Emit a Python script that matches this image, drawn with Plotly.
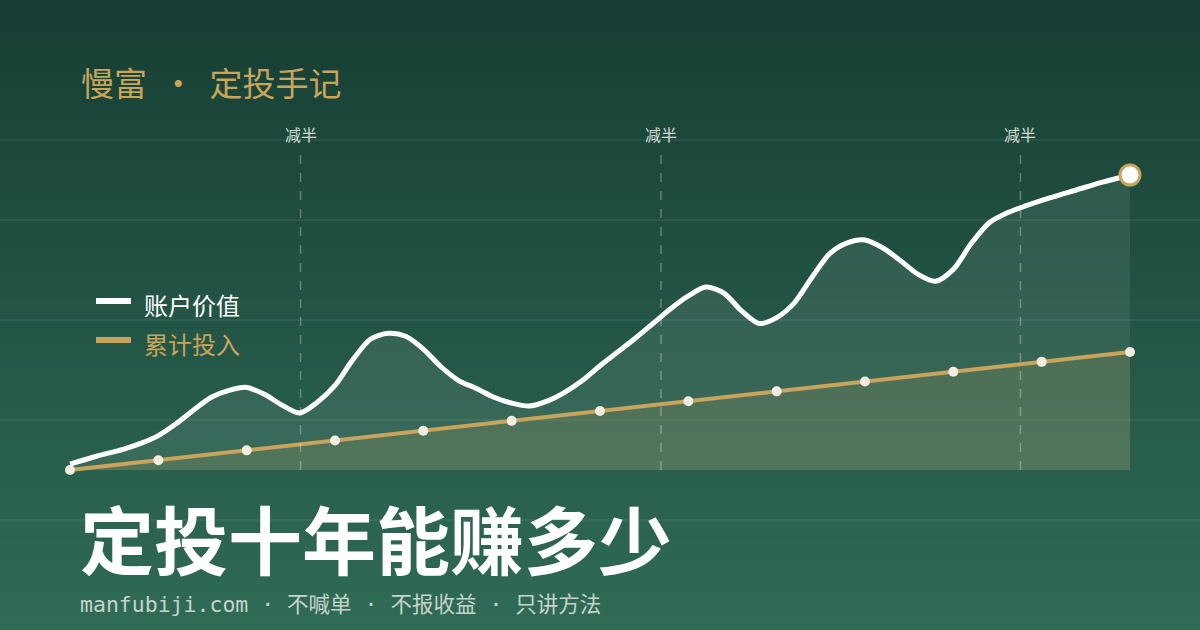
import plotly.graph_objects as go

# ---- data ----
months = [0, 3, 6, 8, 10, 12, 14, 16, 18, 20, 22, 24, 26, 28, 30, 32, 34, 36, 38, 40,
          42, 44, 46, 48, 50, 52, 54, 56, 58, 60, 62, 64, 66, 68, 70, 72, 74, 76, 78, 80,
          82, 84, 86, 88, 90, 92, 94, 96, 98, 100, 102, 104, 106, 108, 111, 114, 117, 120]
account_value = [0.6, 1.4, 2.1, 2.7, 3.5, 4.7, 6.1, 7.4, 8.1, 8.4, 7.7, 6.6, 5.8, 6.9, 8.6,
                 11.2, 13.3, 13.9, 13.6, 12.3, 10.5, 9.1, 8.3, 7.4, 6.8, 6.5, 7.0, 7.9, 9.1,
                 10.6, 12.0, 13.4, 14.9, 16.4, 17.7, 18.6, 18.0, 16.2, 14.9, 15.5, 17.0, 19.6,
                 22.0, 23.1, 23.4, 22.6, 21.3, 19.9, 19.2, 20.4, 23.0, 25.1, 26.1, 26.8, 27.7,
                 28.5, 29.3, 30.0]
invest_months = [0, 10, 20, 30, 40, 50, 60, 70, 80, 90, 100, 110, 120]
invested = [0, 1, 2, 3, 4, 5, 6, 7, 8, 9, 10, 11, 12]
halving_months = [26.1, 66.9, 107.6]
halving_label = "减半"
series_names = ["账户价值", "累计投入"]
brand = "慢富 · 定投手记"
headline = "定投十年能赚多少"
tagline = "manfubiji.com · 不喊单 · 不报收益 · 只讲方法"

W, H = 1200, 630
GOLD = "#c9a45c"
CJK = "Noto Sans CJK SC"

fig = go.Figure()

# account value area + line
fig.add_trace(go.Scatter(
    x=months, y=account_value, mode="lines",
    line=dict(color="#ffffff", width=5, shape="spline", smoothing=0.8),
    fill="tozeroy", fillcolor="rgba(255,255,255,0.08)",
    hoverinfo="skip", showlegend=False))

# invested area + line
fig.add_trace(go.Scatter(
    x=invest_months, y=invested, mode="lines+markers",
    line=dict(color=GOLD, width=4),
    marker=dict(size=10, color="#f1ede1", line=dict(width=0)),
    fill="tozeroy", fillcolor="rgba(201,164,92,0.17)",
    hoverinfo="skip", showlegend=False))

# end point marker
fig.add_trace(go.Scatter(
    x=[months[-1]], y=[account_value[-1]], mode="markers",
    marker=dict(size=20, color="#ffffff", line=dict(color=GOLD, width=3)),
    hoverinfo="skip", showlegend=False))

shapes = []
# vertical gradient background
top = (0x17, 0x3e, 0x34)
bot = (0x2f, 0x6b, 0x56)
n = 63
for i in range(n):
    t = i / (n - 1)
    c = tuple(round(top[k] + (bot[k] - top[k]) * t) for k in range(3))
    shapes.append(dict(type="rect", xref="paper", yref="paper",
                       x0=0, x1=1, y0=1 - (i + 1) / n, y1=1 - i / n,
                       fillcolor="rgb(%d,%d,%d)" % c, line=dict(width=0), layer="below"))

# decorative horizontal guide lines
for py in [140, 220, 320, 420, 520]:
    shapes.append(dict(type="line", xref="paper", yref="paper", x0=0, x1=1,
                       y0=1 - py / H, y1=1 - py / H,
                       line=dict(color="rgba(255,255,255,0.12)", width=1), layer="below"))

# halving dashed lines
for hm in halving_months:
    shapes.append(dict(type="line", xref="x", yref="y", x0=hm, x1=hm, y0=0, y1=32.7,
                       line=dict(color="rgba(255,255,255,0.3)", width=1.5, dash="dash"),
                       layer="above"))

# legend swatches
shapes.append(dict(type="line", xref="paper", yref="paper", x0=96 / W, x1=131 / W,
                   y0=1 - 301 / H, y1=1 - 301 / H, line=dict(color="#ffffff", width=6)))
shapes.append(dict(type="line", xref="paper", yref="paper", x0=96 / W, x1=131 / W,
                   y0=1 - 340 / H, y1=1 - 340 / H, line=dict(color=GOLD, width=6)))

annotations = []
for hm in halving_months:
    annotations.append(dict(x=hm, y=1 - 134 / H, xref="x", yref="paper", text=halving_label,
                            showarrow=False, xanchor="center", yanchor="middle",
                            font=dict(family=CJK, size=16, color="#d3ddd6")))

annotations += [
    dict(x=142 / W, y=1 - 304 / H, text=series_names[0], font=dict(family=CJK, size=24, color="#ffffff")),
    dict(x=142 / W, y=1 - 344 / H, text=series_names[1], font=dict(family=CJK, size=24, color=GOLD)),
    dict(x=79 / W, y=1 - 82 / H, text=brand.replace(" · ", "  ·  "),
         font=dict(family=CJK, size=33, color=GOLD)),
    dict(x=78 / W, y=1 - 536 / H, text="<b>" + headline + "</b>",
         font=dict(family=CJK, size=74, color="#ffffff")),
    dict(x=78 / W, y=1 - 604 / H, text=tagline,
         font=dict(family="DejaVu Sans Mono, " + CJK, size=21.5, color="#c6d3cb")),
]
for a in annotations[len(halving_months):]:
    a.update(xref="paper", yref="paper", showarrow=False, xanchor="left", yanchor="middle")

fig.update_layout(
    width=W, height=H, margin=dict(l=0, r=0, t=0, b=0),
    paper_bgcolor="#23544a", plot_bgcolor="rgba(0,0,0,0)",
    xaxis=dict(range=[-7.925, 127.925], visible=False, fixedrange=True),
    yaxis=dict(range=[-16.271, 47.797], visible=False, fixedrange=True),
    shapes=shapes, annotations=annotations, showlegend=False,
)

fig.write_html("out.html", config={"displayModeBar": False})
